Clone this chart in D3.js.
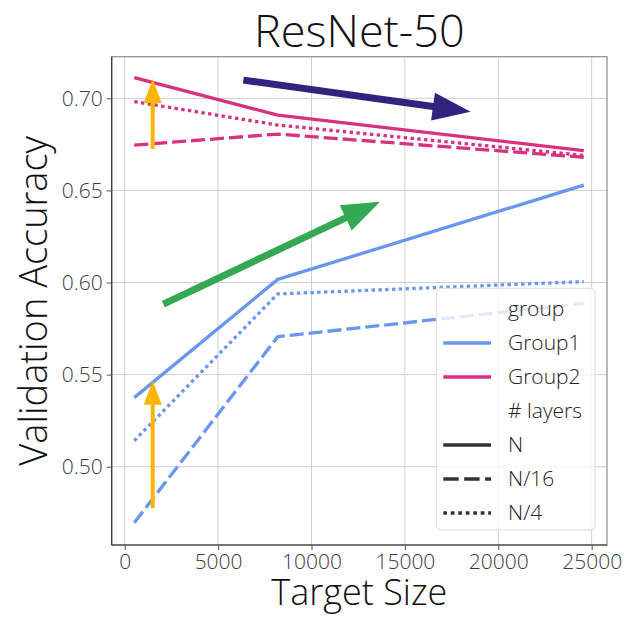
<!DOCTYPE html>
<html><head><meta charset="utf-8">
<script src="https://cdn.jsdelivr.net/npm/d3@7"></script>
<style>
body{margin:0;background:#fff;}
text{font-family:"Open Sans",sans-serif;}
</style></head>
<body><svg id="chart" width="629" height="617"></svg>
<script>
const targetSizes = [512, 8192, 24576];
const groups = ["Group1", "Group2"];
const layerLabels = ["N", "N/16", "N/4"];
const group1_N   = [0.5375, 0.6017, 0.6529];
const group1_N16 = [0.4696, 0.5706, 0.5887];
const group1_N4  = [0.5141, 0.5938, 0.6005];
const group2_N   = [0.7112, 0.6909, 0.6716];
const group2_N16 = [0.6746, 0.6806, 0.6680];
const group2_N4  = [0.6982, 0.6855, 0.6690];
const xTicks = [0, 5000, 10000, 15000, 20000, 25000];
const yTicks = [0.50, 0.55, 0.60, 0.65, 0.70];
// annotation arrows in data units: [x1, y1, x2, y2]
const arrowNavy   = [6350, 0.7099, 18520, 0.6927];
const arrowGreen  = [2070, 0.5883, 13670, 0.6439];
const arrowOrange1 = [1500, 0.6725, 1500, 0.7105];
const arrowOrange2 = [1500, 0.4774, 1500, 0.5467];

const colors = {Group1: "#6a96f0", Group2: "#d8317f"};
const dashes = {"N": null, "N/16": "14,5", "N/4": "3.4,3.4"};

const series = [
  {group: "Group1", layer: "N", values: group1_N},
  {group: "Group1", layer: "N/16", values: group1_N16},
  {group: "Group1", layer: "N/4", values: group1_N4},
  {group: "Group2", layer: "N", values: group2_N},
  {group: "Group2", layer: "N/16", values: group2_N16},
  {group: "Group2", layer: "N/4", values: group2_N4},
];

const L = 111.7, R = 607, T = 56.7, B = 545;
const svg = d3.select("#chart");
const x = d3.scaleLinear().domain([-696, 25820]).range([L, R]);
const y = d3.scaleLinear().domain([0.4575, 0.7226]).range([B, T]);

// grid
const grid = svg.append("g");
grid.selectAll("line.vx").data(xTicks).join("line")
  .attr("x1", d => x(d)).attr("x2", d => x(d)).attr("y1", T).attr("y2", B)
  .attr("stroke", "#d0d0d0").attr("stroke-width", 1);
grid.selectAll("line.hy").data(yTicks).join("line")
  .attr("y1", d => y(d)).attr("y2", d => y(d)).attr("x1", L).attr("x2", R)
  .attr("stroke", "#d0d0d0").attr("stroke-width", 1);

// lines
const line = d3.line().x((d, i) => x(targetSizes[i])).y(d => y(d));
svg.append("g").selectAll("path").data(series).join("path")
  .attr("d", d => line(d.values))
  .attr("fill", "none")
  .attr("stroke", d => colors[d.group])
  .attr("stroke-width", 3.3)
  .attr("stroke-dasharray", d => dashes[d.layer])
  .attr("stroke-linejoin", "round");

// spines
svg.append("rect").attr("x", L).attr("y", T).attr("width", R - L).attr("height", B - T)
  .attr("fill", "none").attr("stroke", "#8a8a8a").attr("stroke-width", 1.2);
svg.append("line").attr("x1", L).attr("x2", L).attr("y1", T).attr("y2", B).attr("stroke", "#333").attr("stroke-width", 1.2);
svg.append("line").attr("x1", L).attr("x2", R).attr("y1", B).attr("y2", B).attr("stroke", "#333").attr("stroke-width", 1.2);

// axes
const xAxis = d3.axisBottom(x).tickValues(xTicks).tickSize(5).tickPadding(4).tickFormat(d3.format("d"));
const yAxis = d3.axisLeft(y).tickValues(yTicks).tickSize(5).tickPadding(4).tickFormat(d3.format(".2f"));
const gx = svg.append("g").attr("transform", `translate(0,${B})`).call(xAxis);
const gy = svg.append("g").attr("transform", `translate(${L},0)`).call(yAxis);
[gx, gy].forEach(g => {
  g.select(".domain").remove();
  g.selectAll(".tick line").attr("stroke", "#555");
  g.selectAll(".tick text").attr("fill", "#3a3a3a").attr("font-size", 21).attr("font-weight", 300)
    .style("font-family", "'Open Sans', sans-serif");
});

// titles
svg.append("text").attr("x", (L + R) / 2).attr("y", 47).attr("text-anchor", "middle")
  .attr("font-size", 45).attr("font-weight", 300).attr("fill", "#111").text("ResNet-50");
svg.append("text").attr("x", (L + R) / 2).attr("y", 605).attr("text-anchor", "middle")
  .attr("font-size", 36).attr("font-weight", 300).attr("fill", "#111").text("Target Size");
svg.append("text").attr("transform", `translate(47,${(T + B) / 2}) rotate(-90)`).attr("text-anchor", "middle")
  .attr("font-size", 38).attr("font-weight", 300).attr("fill", "#111").text("Validation Accuracy");

// arrows
function arrow(a, color, shaftW, headL, headW) {
  const x1 = x(a[0]), y1 = y(a[1]), x2 = x(a[2]), y2 = y(a[3]);
  const dx = x2 - x1, dy = y2 - y1, len = Math.hypot(dx, dy);
  const ux = dx / len, uy = dy / len, nx = -uy, ny = ux;
  const bx = x2 - ux * headL, by = y2 - uy * headL;
  const pts = [
    [x1 + nx * shaftW / 2, y1 + ny * shaftW / 2],
    [bx + nx * shaftW / 2, by + ny * shaftW / 2],
    [bx + nx * headW / 2, by + ny * headW / 2],
    [x2, y2],
    [bx - nx * headW / 2, by - ny * headW / 2],
    [bx - nx * shaftW / 2, by - ny * shaftW / 2],
    [x1 - nx * shaftW / 2, y1 - ny * shaftW / 2],
  ];
  svg.append("path").attr("d", "M" + pts.map(p => p.join(",")).join("L") + "Z").attr("fill", color);
}
arrow(arrowNavy, "#32237f", 7, 38, 28);
arrow(arrowGreen, "#35a853", 7, 38, 28);
arrow(arrowOrange1, "#ffb400", 4, 24, 18);
arrow(arrowOrange2, "#ffb400", 4, 24, 18);

// legend
const lg = svg.append("g");
lg.append("rect").attr("x", 436.7).attr("y", 288.3).attr("width", 158.3).attr("height", 241.7)
  .attr("rx", 4).attr("fill", "#fff").attr("fill-opacity", 0.8).attr("stroke", "#dcdcdc");
const legendItems = [
  {label: "group", title: true},
  ...groups.map(g => ({label: g, color: colors[g], dash: null})),
  {label: "# layers", title: true},
  ...layerLabels.map(l => ({label: l, color: "#333", dash: dashes[l] ? dashes[l].split(",").map(v => +v * 1.1).join(",") : null})),
];
const ly0 = 308.5, lstep = 34.0;
legendItems.forEach((it, i) => {
  const yy = ly0 + i * lstep;
  if (!it.title) {
    lg.append("line").attr("x1", 443.3).attr("x2", 491).attr("y1", yy + 0.5).attr("y2", yy + 0.5)
      .attr("stroke", it.color).attr("stroke-width", 3.7).attr("stroke-dasharray", it.dash);
  }
  lg.append("text").attr("x", 508).attr("y", yy).attr("dy", "0.35em")
    .attr("font-size", 21).attr("font-weight", 300).attr("fill", "#222").text(it.label);
});
</script></body></html>
